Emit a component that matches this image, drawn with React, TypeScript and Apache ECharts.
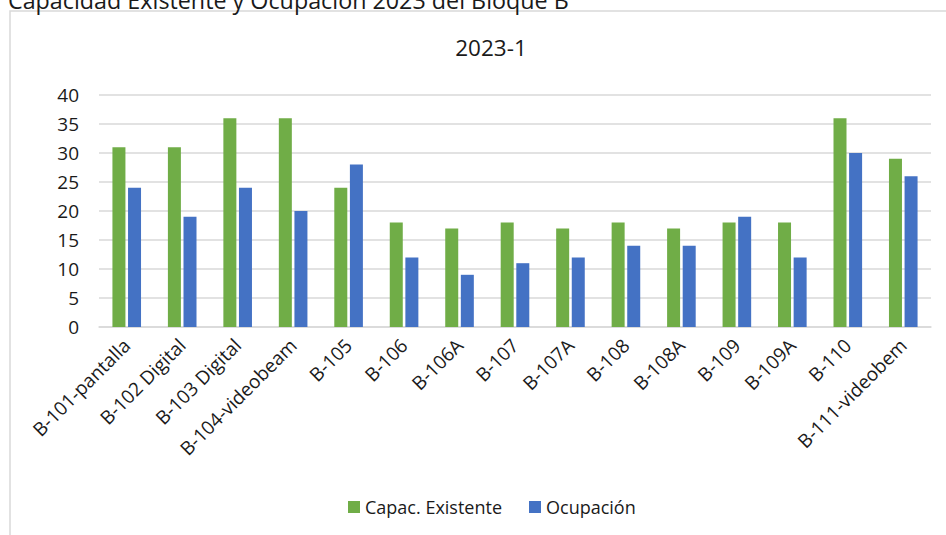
import React, { useEffect, useRef } from "react";
import * as echarts from "echarts";

const categories = [
  "B-101-pantalla",
  "B-102 Digital",
  "B-103 Digital",
  "B-104-videobeam",
  "B-105",
  "B-106",
  "B-106A",
  "B-107",
  "B-107A",
  "B-108",
  "B-108A",
  "B-109",
  "B-109A",
  "B-110",
  "B-111-videobem",
];
const capacidad = [31, 31, 36, 36, 24, 18, 17, 18, 17, 18, 17, 18, 18, 36, 29];
const ocupacion = [24, 19, 24, 20, 28, 12, 9, 11, 12, 14, 14, 19, 12, 30, 26];
const seriesNames = ["Capac. Existente", "Ocupación"];
const mainTitle = "Capacidad Existente y Ocupación 2023 del Bloque B";
const chartTitle = "2023-1";

const FONT = "'Open Sans', 'Noto Sans', sans-serif";

export default function App() {
  const ref = useRef<HTMLDivElement>(null);
  useEffect(() => {
    document.body.style.margin = "0";
    if (!ref.current) return;
    const chart = echarts.init(ref.current, null, { renderer: "svg" });
    chart.setOption({
      animation: false,
      backgroundColor: "#ffffff",
      textStyle: { fontFamily: FONT },
      title: {
        text: chartTitle,
        left: 486,
        textAlign: "center",
        top: 31,
        textStyle: { fontFamily: FONT, fontSize: 22.5, fontWeight: "normal", color: "#1a1a1a" },
      },
      graphic: [
        {
          type: "rect",
          shape: { x: 10, y: 11, width: 1000, height: 600 },
          style: { fill: "none", stroke: "#d9d9d9", lineWidth: 1.5 },
          z: -1,
        },
        {
          type: "text",
          x: 8,
          y: -12,
          style: {
            text: mainTitle,
            font: `23.3px ${FONT}`,
            fill: "#1a1a1a",
            textVerticalAlign: "top",
          },
        },
      ],
      legend: {
        left: 343,
        top: 493,
        itemWidth: 12,
        itemHeight: 12,
        itemGap: 27,
        icon: "rect",
        textStyle: { fontFamily: FONT, fontSize: 18, color: "#1a1a1a" },
        data: seriesNames,
      },
      grid: { left: 99, right: 15, top: 95, bottom: 208, containLabel: false },
      xAxis: {
        type: "category",
        data: categories,
        axisLine: { lineStyle: { color: "#d9d9d9", width: 1.5 } },
        axisTick: { show: false },
        axisLabel: {
          rotate: 45,
          interval: 0,
          margin: 15,
          fontFamily: FONT,
          fontSize: 19,
          color: "#1a1a1a",
        },
      },
      yAxis: {
        type: "value",
        min: 0,
        max: 40,
        interval: 5,
        axisLine: { show: false },
        axisTick: { show: false },
        splitLine: { lineStyle: { color: "#d9d9d9", width: 1.5 } },
        axisLabel: { margin: 20, fontFamily: FONT, fontSize: 19, color: "#1a1a1a" },
      },
      series: [
        {
          name: seriesNames[0],
          type: "bar",
          data: capacidad,
          barWidth: 13,
          barGap: "20%",
          itemStyle: { color: "#70AD47" },
        },
        {
          name: seriesNames[1],
          type: "bar",
          data: ocupacion,
          barWidth: 13,
          barGap: "20%",
          itemStyle: { color: "#4472C4" },
        },
      ],
    });
    return () => chart.dispose();
  }, []);
  return (
    <div
      ref={ref}
      style={{ position: "absolute", left: 0, top: 0, width: 946, height: 535 }}
    />
  );
}
